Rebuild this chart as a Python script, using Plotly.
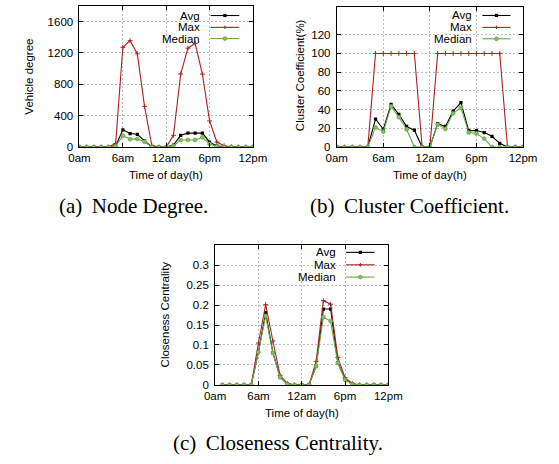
import plotly.graph_objects as go

# ---------------- data ----------------
hours_ab = list(range(25))
hours_c = list(range(1, 25))
tick_hours = [0, 6, 12, 18, 24]
tick_text = ["0am", "6am", "12am", "6pm", "12pm"]

deg_avg = [0, 0, 0, 0, 0, 15, 220, 172, 163, 78, 5, 0, 0, 25, 150, 178, 178, 178, 62, 15, 3, 0, 0, 0, 0]
deg_max = [0, 0, 0, 0, 0, 45, 1272, 1357, 1190, 519, 22, 0, 0, 150, 932, 1261, 1322, 930, 333, 64, 17, 3, 0, 0, 0]
deg_med = [0, 0, 0, 0, 0, 10, 145, 100, 104, 68, 3, 0, 0, 15, 90, 91, 91, 125, 40, 8, 0, 0, 0, 0, 0]

cc_avg = [0, 0, 0, 0, 0, 30, 19, 45.5, 35, 22, 18, 0, 0, 25, 22, 38.5, 47.5, 17.5, 17.7, 15.5, 11.5, 4, 0, 0, 0]
cc_max = [0, 0, 0, 0, 0, 100, 100, 100, 100, 100, 100, 0, 0, 100, 100, 100, 100, 100, 100, 100, 100, 100, 0, 0, 0]
cc_med = [0, 0, 0, 0, 0, 21, 16.5, 43.5, 32, 19, 0, 0, 0, 24, 19.5, 36, 42, 15.5, 14.5, 9, 0, 0, 0, 0, 0]

clo_avg = [0, 0, 0, 0, 0, 0.083, 0.181, 0.081, 0.020, 0.003, 0, 0, 0, 0.048, 0.190, 0.190, 0.056, 0.015, 0.003, 0, 0, 0, 0, 0]
clo_max = [0, 0, 0, 0, 0, 0.105, 0.201, 0.110, 0.024, 0.004, 0, 0, 0, 0.059, 0.211, 0.202, 0.069, 0.018, 0.004, 0, 0, 0, 0, 0]
clo_med = [0, 0, 0, 0, 0, 0.082, 0.173, 0.080, 0.019, 0.002, 0, 0, 0, 0.047, 0.170, 0.160, 0.055, 0.013, 0.002, 0, 0, 0, 0, 0]

series_names = ["Avg", "Max", "Median"]
captions = ["(a)\u2009 Node Degree.", "(b)\u2009 Cluster Coefficient.", "(c)\u2009 Closeness Centrality."]
y_titles = ["Vehicle degree", "Cluster Coefficient(%)", "Closeness Centrality"]
x_title = "Time of day(h)"

# ---------------- style ----------------
W, H = 559, 464
BLACK = "#000000"
RED = "#a82222"
GREEN = "#68a844"
GREEN_FILL = "#86bd66"
FONT = "Liberation Sans"
SERIF = "Liberation Serif"
GRID = "#bdbdbd"
FS = 11.5


def px_x(p):
    return p / W


def px_y(p):
    return 1 - p / H


# plot boxes in pixels (left, right, top, bottom)
boxes = [
    (71.7, 253.3, 6.0, 149.0),
    (341.0, 536.0, 6.7, 149.0),
    (213.7, 395.0, 248.3, 390.0),
]

panels = [
    dict(x=hours_ab, avg=deg_avg, mx=deg_max, med=deg_med, yrange=[0, 1800],
         yticks=[0, 400, 800, 1200, 1600], yticktext=None),
    dict(x=hours_ab, avg=cc_avg, mx=cc_max, med=cc_med, yrange=[0, 150],
         yticks=[0, 20, 40, 60, 80, 100, 120], yticktext=None),
    dict(x=hours_c, avg=clo_avg, mx=clo_max, med=clo_med, yrange=[0, 0.35],
         yticks=[0, 0.05, 0.1, 0.15, 0.2, 0.25, 0.3],
         yticktext=["0", "0.05", "0.1", "0.15", "0.2", "0.25", "0.3"]),
]

fig = go.Figure()
shapes = []
annotations = []

# legend key geometry per panel in domain fractions: text right, line x0, x1, y rows
legend_geo = [
    (0.706, 0.756, 0.921, [0.932, 0.848, 0.769]),
    (0.738, 0.782, 0.933, [0.937, 0.852, 0.771]),
    (0.711, 0.756, 0.921, [0.948, 0.859, 0.771]),
]

# axis titles & captions positions (pixels)
ytitle_pos = [(19, 77.5), (302.7, 76), (160.7, 319)]
xtitle_pos = [(162.5, 177.7), (438.5, 177.7), (304.3, 418)]
caption_pos = [(128, 209), (417, 209), (279, 449)]

for i, p in enumerate(panels):
    k = "" if i == 0 else str(i + 1)
    xa, ya = "x" + k, "y" + k
    l, r, t, b = boxes[i]

    fig.add_trace(go.Scatter(
        x=p["x"], y=p["avg"], name="Avg", mode="lines+markers", xaxis=xa, yaxis=ya,
        line=dict(color=BLACK, width=1.1),
        marker=dict(symbol="square", size=3.2, color=BLACK)))
    fig.add_trace(go.Scatter(
        x=p["x"], y=p["mx"], name="Max", mode="lines+markers", xaxis=xa, yaxis=ya,
        line=dict(color=RED, width=1.1),
        marker=dict(symbol="cross-thin", size=3.5, color=RED, line=dict(color=RED, width=1))))
    fig.add_trace(go.Scatter(
        x=p["x"], y=p["med"], name="Median", mode="lines+markers", xaxis=xa, yaxis=ya,
        line=dict(color=GREEN, width=1.1),
        marker=dict(symbol="circle", size=3.8, color=GREEN_FILL, line=dict(color=GREEN, width=0.8))))

    axis_common = dict(
        showline=True, linecolor=BLACK, linewidth=1, mirror="ticks",
        ticks="inside", ticklen=4, tickcolor=BLACK, tickwidth=1,
        showgrid=True, gridcolor=GRID, gridwidth=1, griddash="2px,2px",
        zeroline=False, tickfont=dict(family=FONT, size=FS, color=BLACK),
        fixedrange=True,
    )
    xlayout = dict(axis_common, domain=[px_x(l), px_x(r)], range=[0, 24],
                   tickmode="array", tickvals=tick_hours, ticktext=tick_text,
                   anchor=ya)
    ylayout = dict(axis_common, domain=[px_y(b), px_y(t)], range=p["yrange"],
                   tickmode="array", tickvals=p["yticks"], anchor=xa,
                   ticklabelstandoff=3)
    if p["yticktext"]:
        ylayout["ticktext"] = p["yticktext"]
    fig.update_layout({("xaxis" + k): xlayout, ("yaxis" + k): ylayout})

    # legend (gnuplot style: text then sample)
    tx, lx0, lx1, rows = legend_geo[i]
    xr, yr = xa + " domain", ya + " domain"
    colors = [BLACK, RED, GREEN]
    for j, name in enumerate(series_names):
        yy = rows[j]
        annotations.append(dict(text=name, xref=xr, yref=yr, x=tx, y=yy, xanchor="right",
                                yanchor="middle", showarrow=False,
                                font=dict(family=FONT, size=FS, color=BLACK)))
        shapes.append(dict(type="line", xref=xr, yref=yr, x0=lx0, x1=lx1, y0=yy, y1=yy,
                           line=dict(color=colors[j], width=1.1)))
        xm = (lx0 + lx1) / 2
        if j == 0:
            shapes.append(dict(type="rect", xref=xr, yref=yr, xsizemode="pixel", ysizemode="pixel",
                               xanchor=xm, yanchor=yy, x0=-1.6, x1=1.6, y0=-1.6, y1=1.6,
                               fillcolor=BLACK, line=dict(width=0)))
        elif j == 1:
            shapes.append(dict(type="line", xref=xr, yref=yr, xsizemode="pixel", ysizemode="pixel",
                               xanchor=xm, yanchor=yy, x0=-1.8, x1=1.8, y0=0, y1=0,
                               line=dict(color=RED, width=1)))
            shapes.append(dict(type="line", xref=xr, yref=yr, xsizemode="pixel", ysizemode="pixel",
                               xanchor=xm, yanchor=yy, x0=0, x1=0, y0=-1.8, y1=1.8,
                               line=dict(color=RED, width=1)))
        else:
            shapes.append(dict(type="circle", xref=xr, yref=yr, xsizemode="pixel", ysizemode="pixel",
                               xanchor=xm, yanchor=yy, x0=-1.9, x1=1.9, y0=-1.9, y1=1.9,
                               fillcolor=GREEN_FILL, line=dict(color=GREEN, width=0.8)))

    # axis titles
    yx, yy_ = ytitle_pos[i]
    annotations.append(dict(text=y_titles[i], xref="paper", yref="paper", x=px_x(yx), y=px_y(yy_),
                            xanchor="center", yanchor="middle", textangle=-90, showarrow=False,
                            font=dict(family=FONT, size=FS, color=BLACK)))
    xx, xy = xtitle_pos[i]
    annotations.append(dict(text=x_title, xref="paper", yref="paper", x=px_x(xx), y=px_y(xy),
                            xanchor="center", yanchor="middle", showarrow=False,
                            font=dict(family=FONT, size=FS, color=BLACK)))
    cx, cy = caption_pos[i]
    annotations.append(dict(text=captions[i], xref="paper", yref="paper", x=px_x(cx), y=px_y(cy),
                            xanchor="center", yanchor="middle", showarrow=False,
                            font=dict(family=SERIF, size=21, color=BLACK)))

fig.update_layout(
    width=W, height=H, autosize=False,
    margin=dict(l=0, r=0, t=0, b=0),
    paper_bgcolor="white", plot_bgcolor="white",
    showlegend=False,
    shapes=shapes, annotations=annotations,
)

fig.write_html(
    "out.html",
    config={"displayModeBar": False},
    post_script="document.body.style.margin='0';document.body.style.overflow='hidden';",
)
